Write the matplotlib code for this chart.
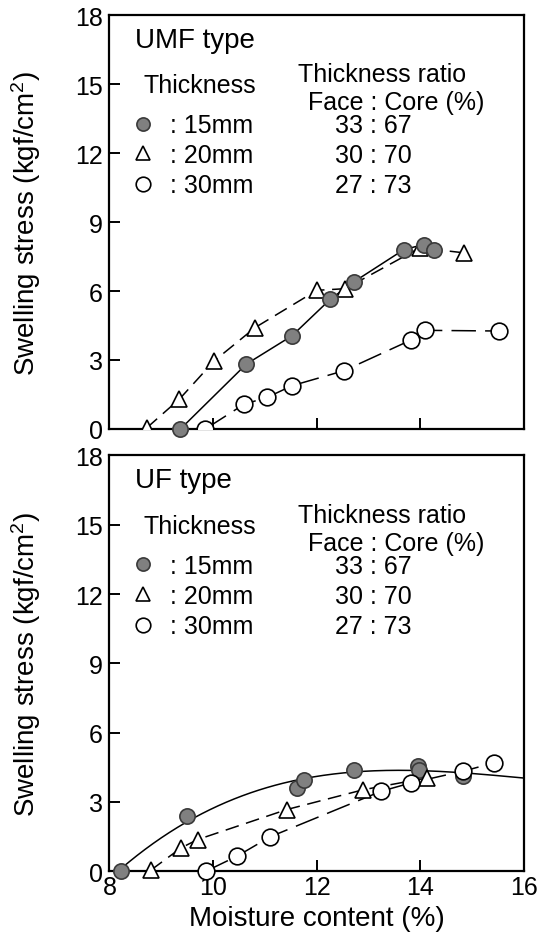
import numpy as np
import matplotlib
matplotlib.use("Agg")
import matplotlib.pyplot as plt

plt.rcParams['font.family'] = ['Liberation Sans', 'DejaVu Sans']
plt.rcParams['mathtext.fontset'] = 'custom'
plt.rcParams['mathtext.rm'] = 'Liberation Sans'
plt.rcParams['mathtext.it'] = 'Liberation Sans'

# UMF type boards: moisture content (%) vs swelling stress (kgf/cm2)
umf_15_x = [9.37, 10.64, 11.52, 12.26, 12.71, 13.68, 14.06, 14.26]
umf_15_y = [0.0, 2.82, 4.05, 5.64, 6.39, 7.80, 8.02, 7.77]
umf_20_x = [8.72, 9.35, 10.02, 10.81, 12.00, 12.55, 13.99, 14.84]
umf_20_y = [0.05, 1.30, 2.96, 4.41, 6.03, 6.10, 7.88, 7.66]
umf_30_x = [9.85, 10.60, 11.04, 11.52, 12.52, 13.82, 14.08, 15.51]
umf_30_y = [0.0, 1.08, 1.37, 1.88, 2.53, 3.87, 4.29, 4.26]

# UF type boards
uf_15_x = [8.22, 9.49, 11.62, 11.75, 12.72, 13.95, 13.97, 14.82]
uf_15_y = [0.0, 2.41, 3.61, 3.97, 4.40, 4.57, 4.40, 4.11]
uf_20_x = [8.80, 9.38, 9.70, 11.42, 12.90, 14.13]
uf_20_y = [0.05, 1.01, 1.37, 2.67, 3.53, 4.04]
uf_30_x = [9.86, 10.46, 11.10, 13.24, 13.81, 14.82, 15.42]
uf_30_y = [0.0, 0.65, 1.49, 3.46, 3.82, 4.33, 4.69]

thickness_labels = [': 15mm', ': 20mm', ': 30mm']
ratio_labels = ['33 : 67', '30 : 70', '27 : 73']
x_ticks = [8, 10, 12, 14, 16]
y_ticks = [0, 3, 6, 9, 12, 15, 18]

filled = dict(marker='o', ms=11, mfc='#808080', mec='#3a3a3a', mew=1.2)
tri = dict(marker='^', ms=12, mfc='white', mec='black', mew=1.2)
hollow = dict(marker='o', ms=12, mfc='white', mec='black', mew=1.2)
styles = [filled, tri, hollow]

fig = plt.figure(figsize=(5.42, 9.45), dpi=100)
ax_top = fig.add_axes([0.202, 0.545, 0.765, 0.438])
ax_bot = fig.add_axes([0.202, 0.077, 0.765, 0.440])


def draw_key(ax, title):
    ax.text(0.062, 0.923, title, transform=ax.transAxes, fontsize=20, va='baseline')
    ax.text(0.081, 0.814, 'Thickness', transform=ax.transAxes, fontsize=18, va='baseline')
    ax.text(0.455, 0.841, 'Thickness ratio', transform=ax.transAxes, fontsize=18, va='baseline')
    ax.text(0.479, 0.773, 'Face : Core (%)', transform=ax.transAxes, fontsize=18, va='baseline')
    rows = [0.717, 0.645, 0.572]
    for st, lab, rat, yb in zip(styles, thickness_labels, ratio_labels, rows):
        kw = dict(st)
        kw['ms'] = kw['ms'] - 1.5
        ax.plot([0.081], [yb + 0.021], transform=ax.transAxes, ls='none', clip_on=False, **kw)
        ax.text(0.146, yb, lab, transform=ax.transAxes, fontsize=18, va='baseline')
        ax.text(0.544, yb, rat, transform=ax.transAxes, fontsize=18, va='baseline')


def style_axes(ax, bottom_labels):
    ax.set_xlim(8, 16)
    ax.set_ylim(0, 18)
    ax.set_xticks(x_ticks)
    ax.set_yticks(y_ticks)
    ax.tick_params(direction='in', length=8, width=1.4, labelsize=18, pad=5)
    ax.tick_params(axis='x', labelbottom=bottom_labels, pad=3)
    for sp in ax.spines.values():
        sp.set_linewidth(1.6)
    ax.set_ylabel('Swelling stress (kgf/cm$^2$)', fontsize=20)
    ax.yaxis.set_label_coords(-0.16, 0.5)


# UMF panel
ax_top.plot(umf_15_x, umf_15_y, '-', color='black', lw=1.1, zorder=2)
ax_top.plot(umf_20_x, umf_20_y, '--', color='black', lw=1.1, dashes=(9, 5), zorder=2)
ax_top.plot(umf_30_x, umf_30_y, '--', color='black', lw=1.1, dashes=(16, 6), zorder=2)
ax_top.plot(umf_20_x, umf_20_y, ls='none', zorder=3, **tri)
ax_top.plot(umf_30_x, umf_30_y, ls='none', zorder=3, **hollow)
ax_top.plot(umf_15_x, umf_15_y, ls='none', zorder=4, clip_on=False, **filled)
draw_key(ax_top, 'UMF type')
style_axes(ax_top, False)

# UF panel: 15mm series drawn with a cubic trend
coef = np.polyfit(uf_15_x, uf_15_y, 3)
xs = np.linspace(uf_15_x[0], 16, 200)
ax_bot.plot(xs, np.polyval(coef, xs), '-', color='black', lw=1.1, zorder=2)
ax_bot.plot(uf_20_x, uf_20_y, '--', color='black', lw=1.1, dashes=(9, 5), zorder=2)
ax_bot.plot(uf_30_x, uf_30_y, '--', color='black', lw=1.1, dashes=(16, 6), zorder=2)
ax_bot.plot(uf_15_x, uf_15_y, ls='none', zorder=3, clip_on=False, **filled)
ax_bot.plot(uf_20_x, uf_20_y, ls='none', zorder=4, clip_on=False, **tri)
ax_bot.plot(uf_30_x, uf_30_y, ls='none', zorder=5, clip_on=False, **hollow)
draw_key(ax_bot, 'UF type')
style_axes(ax_bot, True)
ax_bot.set_xlabel('Moisture content (%)', fontsize=20, labelpad=4)

fig.savefig('out.png', dpi=100, facecolor='white')
